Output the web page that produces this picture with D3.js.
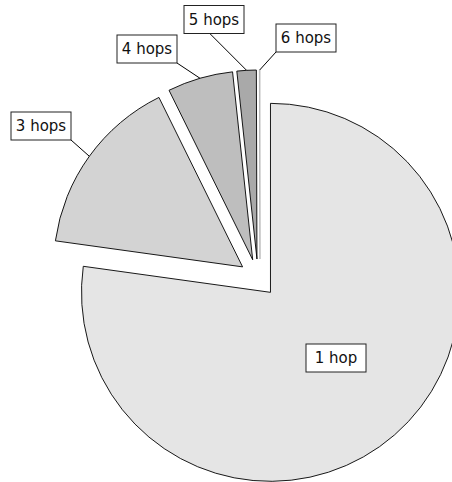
<!DOCTYPE html>
<html>
<head>
<meta charset="utf-8">
<script src="https://cdn.jsdelivr.net/npm/d3@7"></script>
<style>
  body { margin: 0; background: #fff; }
  svg { display: block; }
</style>
</head>
<body>
<div id="chart"></div>
<script>
// slices, clockwise from 12 o'clock
var labels = ["1 hop", "3 hops", "4 hops", "5 hops", "6 hops"];
var shares = [77.2, 15.5, 5.6, 1.65, 0.05];
var fills = ["#e5e5e5", "#d3d3d3", "#bebebe", "#a9a9a9", "#c8c8c8"];
var strokes = ["#000", "#000", "#000", "#000", "#b8b8b8"];

// label boxes: centre relative to pie centre, and where the leader line meets the box
var labelLayout = [
    {dx: 78, dy: 80, attach: null},
    {dx: -217, dy: -152, attach: [1, 1]},
    {dx: -111, dy: -229, attach: [1, 1]},
    {dx: -44, dy: -258.5, attach: [0.43, 1]},
    {dx: 48, dy: -240, attach: [0, 1]}
];

var width = 452, height = 482;
var cx = 258, cy = 278;
var radius = 189;
var explode = 19;
var boxW = 60, boxH = 28;

var svg = d3.select("#chart").append("svg")
    .attr("width", width)
    .attr("height", height);

var g = svg.append("g")
    .attr("transform", "translate(" + cx + "," + cy + ")");

var pie = d3.pie().sort(null).value(function(d) { return d; });
var arc = d3.arc().innerRadius(0).outerRadius(radius);
var arcs = pie(shares);

function offset(d, dist) {
    var mid = (d.startAngle + d.endAngle) / 2;
    return [dist * Math.sin(mid), -dist * Math.cos(mid)];
}

// wedges, each pushed out along its bisector
g.selectAll("path.slice")
    .data(arcs)
    .enter().append("path")
    .attr("class", "slice")
    .attr("transform", function(d) {
        var o = offset(d, explode);
        // the thin last wedge sits a little to the right in the original
        if (d.index == arcs.length - 1) o[0] += 2;
        return "translate(" + o[0] + "," + o[1] + ")";
    })
    .attr("d", arc)
    .attr("fill", function(d, i) { return fills[i]; })
    .attr("stroke", function(d, i) { return strokes[i]; })
    .attr("stroke-width", 0.9)
    .attr("stroke-linejoin", "miter");

// leader lines from the middle of the arc to the box
g.selectAll("line.leader")
    .data(arcs.filter(function(d, i) { return labelLayout[i].attach; }))
    .enter().append("line")
    .attr("class", "leader")
    .attr("x1", function(d) {
        var x = offset(d, explode + radius)[0];
        return d.index == arcs.length - 1 ? x + 2 : x;
    })
    .attr("y1", function(d) { return offset(d, explode + radius)[1]; })
    .attr("x2", function(d) {
        var L = labelLayout[d.index];
        return L.dx - boxW / 2 + L.attach[0] * boxW;
    })
    .attr("y2", function(d) {
        var L = labelLayout[d.index];
        return L.dy - boxH / 2 + L.attach[1] * boxH;
    })
    .attr("stroke", "#000")
    .attr("stroke-width", 1);

// boxed labels
var lab = g.selectAll("g.label")
    .data(labels)
    .enter().append("g")
    .attr("class", "label")
    .attr("transform", function(d, i) {
        return "translate(" + labelLayout[i].dx + "," + labelLayout[i].dy + ")";
    });

lab.append("rect")
    .attr("x", -boxW / 2)
    .attr("y", -boxH / 2)
    .attr("width", boxW)
    .attr("height", boxH)
    .attr("fill", "#fff")
    .attr("stroke", "#222")
    .attr("stroke-width", 1);

lab.append("text")
    .attr("text-anchor", "middle")
    .attr("dy", "0.35em")
    .style("font-family", "'DejaVu Sans', sans-serif")
    .style("font-size", "15px")
    .attr("fill", "#111")
    .text(function(d) { return d; });
</script>
</body>
</html>
